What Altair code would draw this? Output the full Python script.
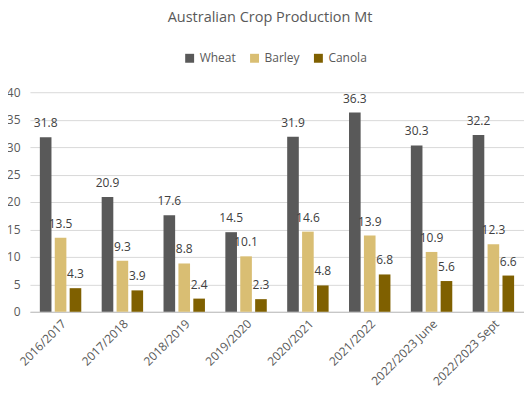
import altair as alt
import pandas as pd

seasons = ["2016/2017", "2017/2018", "2018/2019", "2019/2020", "2020/2021",
           "2021/2022", "2022/2023 June", "2022/2023 Sept"]
crops = ["Wheat", "Barley", "Canola"]
wheat = [31.8, 20.9, 17.6, 14.5, 31.9, 36.3, 30.3, 32.2]
barley = [13.5, 9.3, 8.8, 10.1, 14.6, 13.9, 10.9, 12.3]
canola = [4.3, 3.9, 2.4, 2.3, 4.8, 6.8, 5.6, 6.6]
colors = ["#595959", "#D9BE73", "#7F6000"]

rows = []
for crop, vals in zip(crops, [wheat, barley, canola]):
    for s, v in zip(seasons, vals):
        rows.append({"Season": s, "Crop": crop, "Value": v})
df = pd.DataFrame(rows)

FONT = "Open Sans"
x = alt.X("Season:N", sort=seasons, title=None,
          scale=alt.Scale(paddingInner=0.33, paddingOuter=0.16),
          axis=alt.Axis(labelAngle=-45, ticks=False, domainColor="#BFBFBF",
                        labelColor="#595959", labelFontSize=12, labelFont=FONT,
                        labelPadding=6))
xo = alt.XOffset("Crop:N", sort=crops, scale=alt.Scale(paddingInner=0.22))
y = alt.Y("Value:Q", title=None,
          scale=alt.Scale(domain=[0, 40]),
          axis=alt.Axis(values=[0, 5, 10, 15, 20, 25, 30, 35, 40], ticks=False,
                        domain=False, gridColor="#D9D9D9", labelColor="#595959",
                        labelFontSize=12, labelFont=FONT, labelPadding=10))
color = alt.Color("Crop:N", sort=crops,
                  scale=alt.Scale(domain=crops, range=colors),
                  legend=alt.Legend(title=None, orient="none", direction="horizontal",
                                    legendX=154, legendY=-40, symbolType="square",
                                    symbolSize=80, labelFontSize=12, labelFont=FONT,
                                    labelColor="#595959", columnPadding=12,
                                    symbolStrokeWidth=0))

bars = alt.Chart(df).mark_bar().encode(x=x, xOffset=xo, y=y, color=color)
labels = alt.Chart(df).mark_text(dy=-14, fontSize=12, font=FONT, color="#404040").encode(
    x=x, xOffset=xo, y=y, text=alt.Text("Value:Q", format=".1f"))

chart = (bars + labels).properties(
    width=495, height=220,
    title=alt.TitleParams("Australian Crop Production Mt", fontSize=14.5, font=FONT,
                          fontWeight="normal", color="#595959", anchor="middle",
                          offset=27, dx=-7),
    autosize=alt.AutoSizeParams(type="none"),
    padding={"left": 22, "top": 84, "right": 0, "bottom": 80},
).configure_view(stroke=None)

chart.save("out.html", embed_options={"renderer": "svg", "actions": False})
